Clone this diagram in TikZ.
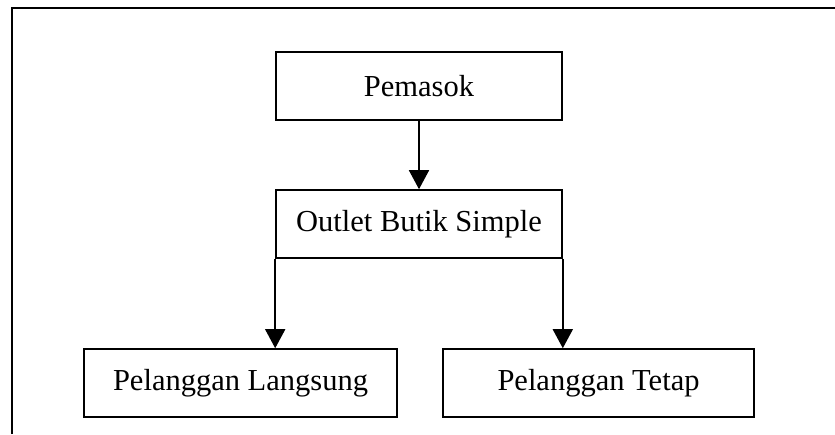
\documentclass[tikz,border=0pt]{standalone}
\usepackage{fontspec}
\setmainfont{Liberation Serif}
\usetikzlibrary{arrows.meta}
\begin{document}
\begin{tikzpicture}[x=1pt,y=-1pt,
  box/.style={draw,line width=1.6pt,inner sep=0pt,font=\fontsize{30.5}{36}\selectfont},
  conn/.style={line width=1.6pt,-{Triangle[width=20pt,length=19pt]}}]
\useasboundingbox (0,0) rectangle (835,434);
\fill[white] (0,0) rectangle (835,434);
\coordinate (fb) at (12,434);
\coordinate (fc) at (12,8);
\coordinate (fr) at (835,8);
\draw[line width=1.6pt] (fb) -- (fc) -- (fr);
\node[box,minimum width=286pt,minimum height=68pt] (pem) at (419,86) {Pemasok};
\node[box,minimum width=286pt,minimum height=68pt] (out) at (419,224) {Outlet Butik Simple};
\node[box,minimum width=313pt,minimum height=68pt] (lang) at (240.5,383) {Pelanggan Langsung};
\node[box,minimum width=311pt,minimum height=68pt] (tet) at (598.5,383) {Pelanggan Tetap};
\draw[conn] (pem.south) -- (pem.south |- out.north);
\draw[conn] (out.south west) -- (out.south west |- lang.north);
\draw[conn] (out.south east) -- (out.south east |- tet.north);
\end{tikzpicture}
\end{document}
